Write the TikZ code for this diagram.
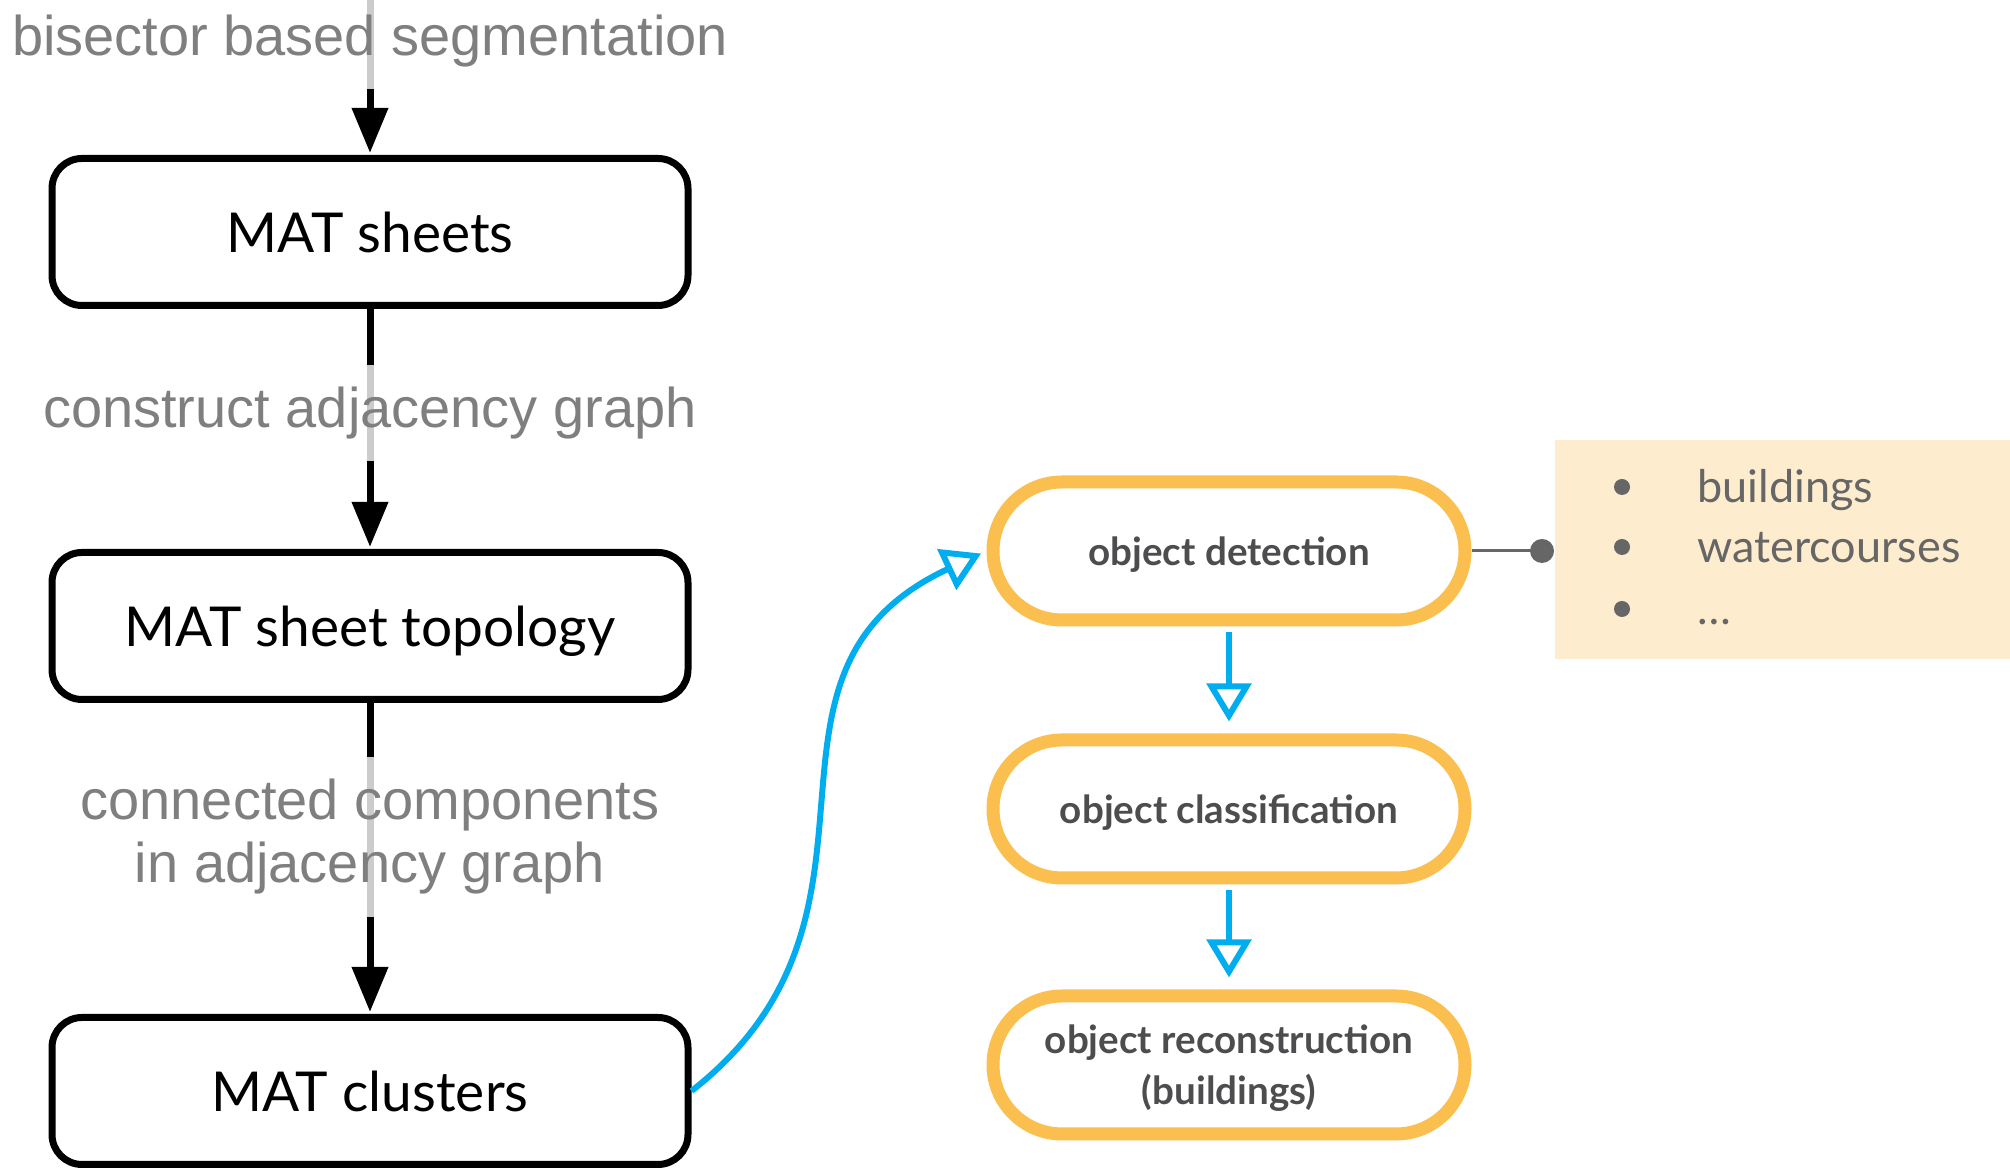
\documentclass[tikz,border=0pt]{standalone}
\usepackage{fontspec}
\usetikzlibrary{arrows.meta,shapes.misc}
\newfontfamily\labelfont{Liberation Sans}
\newfontfamily\boxfont{Lato}
\definecolor{labelgray}{HTML}{7F7F7F}
\definecolor{pillorange}{HTML}{FBBF4F}
\definecolor{pilltext}{HTML}{4D4D4F}
\definecolor{flowblue}{HTML}{00AEEF}
\definecolor{notebg}{HTML}{FDECCD}
\definecolor{notegray}{HTML}{666666}
\tikzset{
  matbox/.style={draw, line width=3.5pt, rounded corners=15pt, minimum width=318pt,
    minimum height=73.5pt, text depth=0pt, font=\boxfont\fontsize{27.5}{32}\selectfont},
  pill/.style={rounded rectangle, draw=pillorange, line width=6.5pt, minimum width=236pt,
    minimum height=69pt, inner sep=0pt, align=center, text=pilltext, text depth=0pt,
    font=\boxfont\bfseries\fontsize{19.3}{25.5}\selectfont},
  steplabel/.style={fill=white, fill opacity=0.8, text opacity=1, text=labelgray,
    inner sep=11pt, align=center, font=\labelfont\fontsize{28}{31.5}\selectfont},
  stepflow/.style={line width=3.5pt, -{Triangle[length=22.5pt,width=17.5pt]}, shorten >=1pt},
  objflow/.style={flowblue, line width=3pt, -{Triangle[open,length=19pt,width=22pt]}},
  notetext/.style={anchor=base west, inner sep=0pt, text=notegray, font=\boxfont\fontsize{22.5}{26}\selectfont}
}
\begin{document}
\begin{tikzpicture}[x=0.5pt,y=0.5pt]
\useasboundingbox (0,0) rectangle (2010,1170);
\coordinate (start) at (370,1180);
\node[matbox] (sheets) at (370,938) {MAT sheets};
\node[matbox] (topology) at (370,544) {MAT sheet topology};
\node[matbox] (clusters) at (370,79) {MAT clusters};
\draw[stepflow] (start) -- (sheets.north);
\draw[stepflow] (sheets.south) -- (topology.north);
\draw[stepflow] (topology.south) -- (clusters.north);
\node[steplabel] (segment) at (370,1129) {bisector based segmentation};
\node[steplabel] (adjacency) at (370,757) {construct adjacency graph};
\node[steplabel] (components) at (370,333) {connected components\\in adjacency graph};
\node[pill] (detect) at (1229,619) {object detection};
\node[pill] (classify) at (1229,361) {object classification};
\node[pill] (reconstruct) at (1229,105) {object reconstruction\\(buildings)};
\draw[objflow, shorten >=3pt] (clusters.east) to[out=38,in=205,looseness=1.2] (detect.west);
\draw[objflow, shorten <=3pt, shorten >=6pt] (detect.south) -- (classify.north);
\draw[objflow, shorten <=3pt, shorten >=6pt] (classify.south) -- (reconstruct.north);
\node[fill=notebg, anchor=north west, minimum width=227.5pt, minimum height=109.5pt, inner sep=0pt] (note) at (1555,730) {};
\node[circle, fill=notegray, minimum size=12pt, inner sep=0pt] (notedot) at (1542,619) {};
\draw[notegray, line width=1.5pt] (detect.east) -- (notedot.center);
\fill[notegray] (1622,683) circle (4pt);
\fill[notegray] (1622,623) circle (4pt);
\fill[notegray] (1622,561) circle (4pt);
\node[notetext] (item1) at (1697,667) {buildings};
\node[notetext] (item2) at (1697,607) {watercourses};
\node[notetext] (item3) at (1697,545) {\dots};
\end{tikzpicture}
\end{document}
